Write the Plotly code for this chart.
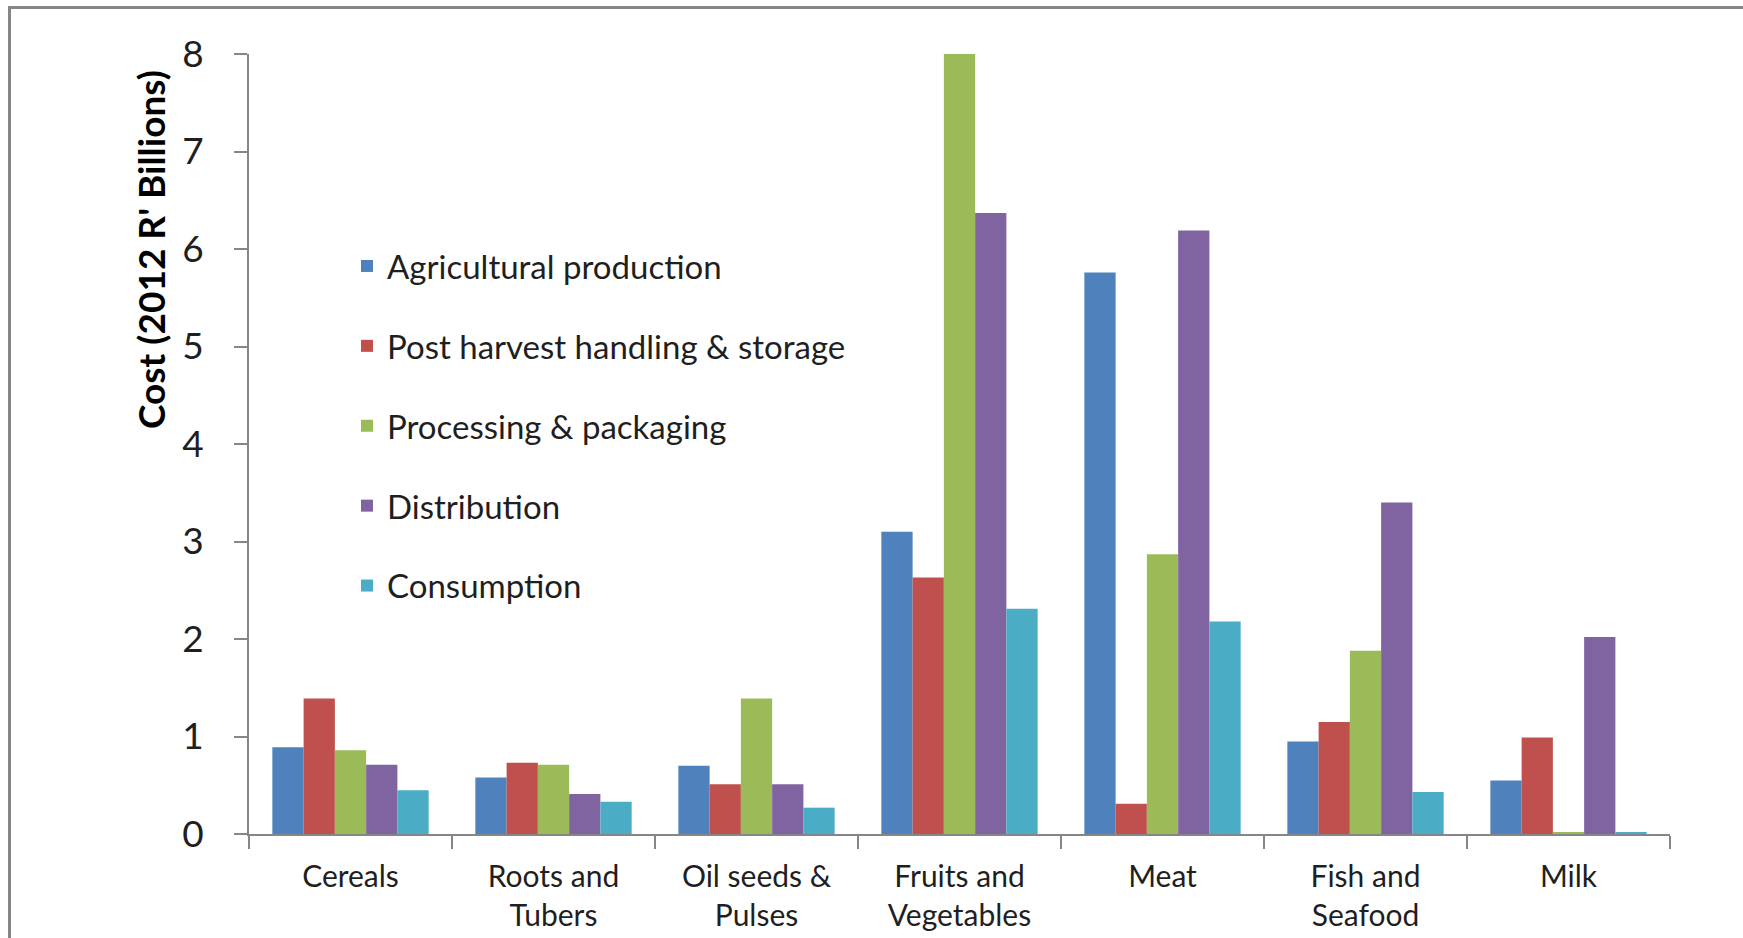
import plotly.graph_objects as go

categories = ["Cereals", "Roots and<br>Tubers", "Oil seeds &amp;<br>Pulses",
              "Fruits and<br>Vegetables", "Meat", "Fish and<br>Seafood", "Milk"]

agricultural_production = [0.89, 0.58, 0.70, 3.10, 5.76, 0.95, 0.55]
post_harvest = [1.39, 0.73, 0.51, 2.63, 0.31, 1.15, 0.99]
processing_packaging = [0.86, 0.71, 1.39, 8.00, 2.87, 1.88, 0.02]
distribution = [0.71, 0.41, 0.51, 6.37, 6.19, 3.40, 2.02]
consumption = [0.45, 0.33, 0.27, 2.31, 2.18, 0.43, 0.02]

series = [
    ("Agricultural production", agricultural_production, "#4F81BD"),
    ("Post harvest handling &amp; storage", post_harvest, "#C0504D"),
    ("Processing &amp; packaging", processing_packaging, "#9BBB59"),
    ("Distribution", distribution, "#8064A2"),
    ("Consumption", consumption, "#4BACC6"),
]

FONT = "Lato, 'Open Sans', sans-serif"
AXIS_GREY = "#868686"
TEXT = "#1f1f1f"

fig = go.Figure()
for i, (name, values, color) in enumerate(series):
    fig.add_trace(go.Bar(
        name=name, x=categories, y=values,
        marker=dict(color=color, line=dict(width=0)),
        legendgroup=f"g{i}",
    ))

W, H = 1743, 938
L, R, T, B = 249, 73, 54, 104
pw, ph = W - L - R, H - T - B

def px_x(px):
    return (px - L) / pw

def px_y(py):
    return (H - B - py) / ph

fig.update_layout(
    width=W, height=H,
    margin=dict(l=L, r=R, t=T, b=B, pad=0, autoexpand=False),
    paper_bgcolor="white", plot_bgcolor="white",
    barmode="group", bargap=0.23, bargroupgap=0,
    font=dict(family=FONT, size=30, color=TEXT),
    showlegend=True,
    legend=dict(
        x=px_x(347), xanchor="left",
        y=px_y(238), yanchor="top",
        font=dict(family=FONT, size=33, color=TEXT),
        tracegroupgap=34, itemwidth=30,
        bgcolor="rgba(0,0,0,0)",
    ),
    xaxis=dict(
        automargin=False,
        showline=True, linecolor=AXIS_GREY, linewidth=2,
        ticks="outside", tickson="boundaries", ticklen=13,
        tickcolor=AXIS_GREY, tickwidth=2,
        showgrid=False, zeroline=False,
        ticklabelstandoff=15,
        tickfont=dict(family=FONT, size=30, color=TEXT),
    ),
    yaxis=dict(
        automargin=False,
        range=[0, 8], dtick=1,
        showline=True, linecolor=AXIS_GREY, linewidth=2,
        ticks="outside", ticklen=13, tickcolor=AXIS_GREY, tickwidth=2,
        showgrid=False, zeroline=False,
        ticklabelstandoff=23,
        tickfont=dict(family=FONT, size=37, color=TEXT),
    ),
    annotations=[dict(
        text="<b>Cost (2012 R' Billions)</b>",
        x=px_x(150), y=px_y(250), xref="paper", yref="paper",
        xanchor="center", yanchor="middle",
        textangle=-90, showarrow=False,
        font=dict(family=FONT, size=37, color="black"),
    )],
    shapes=[
        dict(type="line", xref="paper", yref="paper",
             x0=px_x(8), x1=px_x(W + 5), y0=px_y(7.5), y1=px_y(7.5),
             line=dict(color=AXIS_GREY, width=3)),
        dict(type="line", xref="paper", yref="paper",
             x0=px_x(9.5), x1=px_x(9.5), y0=px_y(6), y1=px_y(H + 5),
             line=dict(color=AXIS_GREY, width=3)),
    ],
)

fig.write_html("out.html")
